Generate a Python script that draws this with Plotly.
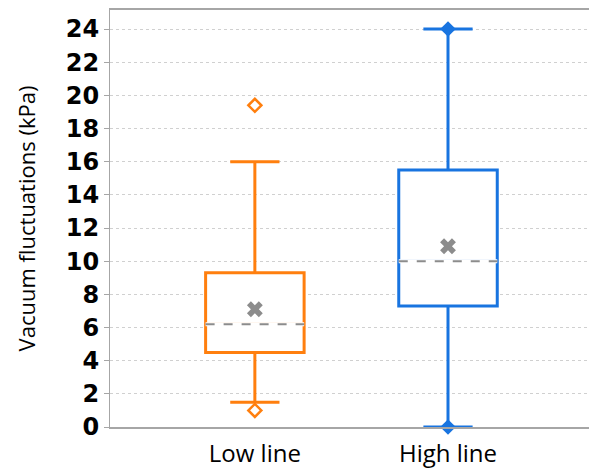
import plotly.graph_objects as go

categories = ["Low line", "High line"]
q1 = [4.5, 7.3]
median = [6.2, 10.0]
q3 = [9.3, 15.5]
lower_fence = [1.5, 0.0]
upper_fence = [16.0, 24.0]
mean = [7.1, 10.9]
outliers_low = [19.4, 1.0]
extreme_high = [24.0, 0.0]
colors = ["#FF7F0E", "#1874E0"]

x_pos = [0, 1]
box_w = 0.51

fig = go.Figure()
for i, cat in enumerate(categories):
    fig.add_trace(go.Box(
        x=[x_pos[i]], q1=[q1[i]], median=[median[i]], q3=[q3[i]],
        lowerfence=[lower_fence[i]], upperfence=[upper_fence[i]],
        width=box_w, whiskerwidth=0.5, boxpoints=False,
        line=dict(color=colors[i], width=3), fillcolor="white",
        showlegend=False, hoverinfo="skip",
    ))
    xs = [x_pos[i] - box_w / 2, x_pos[i] + box_w / 2]
    fig.add_trace(go.Scatter(x=xs, y=[median[i]] * 2, mode="lines",
                             line=dict(color="white", width=4), showlegend=False))
    fig.add_trace(go.Scatter(x=xs, y=[median[i]] * 2, mode="lines",
                             line=dict(color="#8C8C8C", width=2, dash="dash"), showlegend=False))
    fig.add_trace(go.Scatter(x=[x_pos[i]], y=[mean[i]], mode="markers",
                             marker=dict(symbol="x", size=14, color="#8C8C8C",
                                         line=dict(width=0)), showlegend=False))

fig.add_trace(go.Scatter(x=[x_pos[0]] * len(outliers_low), y=outliers_low, mode="markers",
                         marker=dict(symbol="diamond-open", size=10, color=colors[0],
                                     line=dict(width=2.5)), showlegend=False, cliponaxis=False))
fig.add_trace(go.Scatter(x=[x_pos[1]] * len(extreme_high), y=extreme_high, mode="markers",
                         marker=dict(symbol="diamond", size=12, color=colors[1]),
                         showlegend=False, cliponaxis=False))

fig.update_layout(
    width=589, height=474,
    margin=dict(l=110, r=0, t=10, b=47),
    plot_bgcolor="white", paper_bgcolor="white",
    xaxis=dict(range=[-0.75, 1.73], tickmode="array", tickvals=x_pos, ticktext=categories,
               showgrid=False, zeroline=False, showline=True, linecolor="#A6A6A6",
               linewidth=2, mirror=True, ticks="", ticklabelstandoff=4, automargin=False,
               tickfont=dict(family="Open Sans", size=24, color="black")),
    yaxis=dict(range=[0, 25.15], tickmode="linear", tick0=0, dtick=2,
               showgrid=True, gridcolor="#D0D0D0", griddash="dot", gridwidth=1,
               zeroline=False, showline=True, linecolor="#A6A6A6", linewidth=1,
               ticks="outside", ticklen=5, tickcolor="#A6A6A6",
               tickfont=dict(family="DejaVu Sans", size=24, color="black", weight="bold"),
               title=dict(text="Vacuum fluctuations (kPa)",
                          font=dict(family="Open Sans", size=22, color="black"), standoff=24)),
)

fig.write_html("out.html")
